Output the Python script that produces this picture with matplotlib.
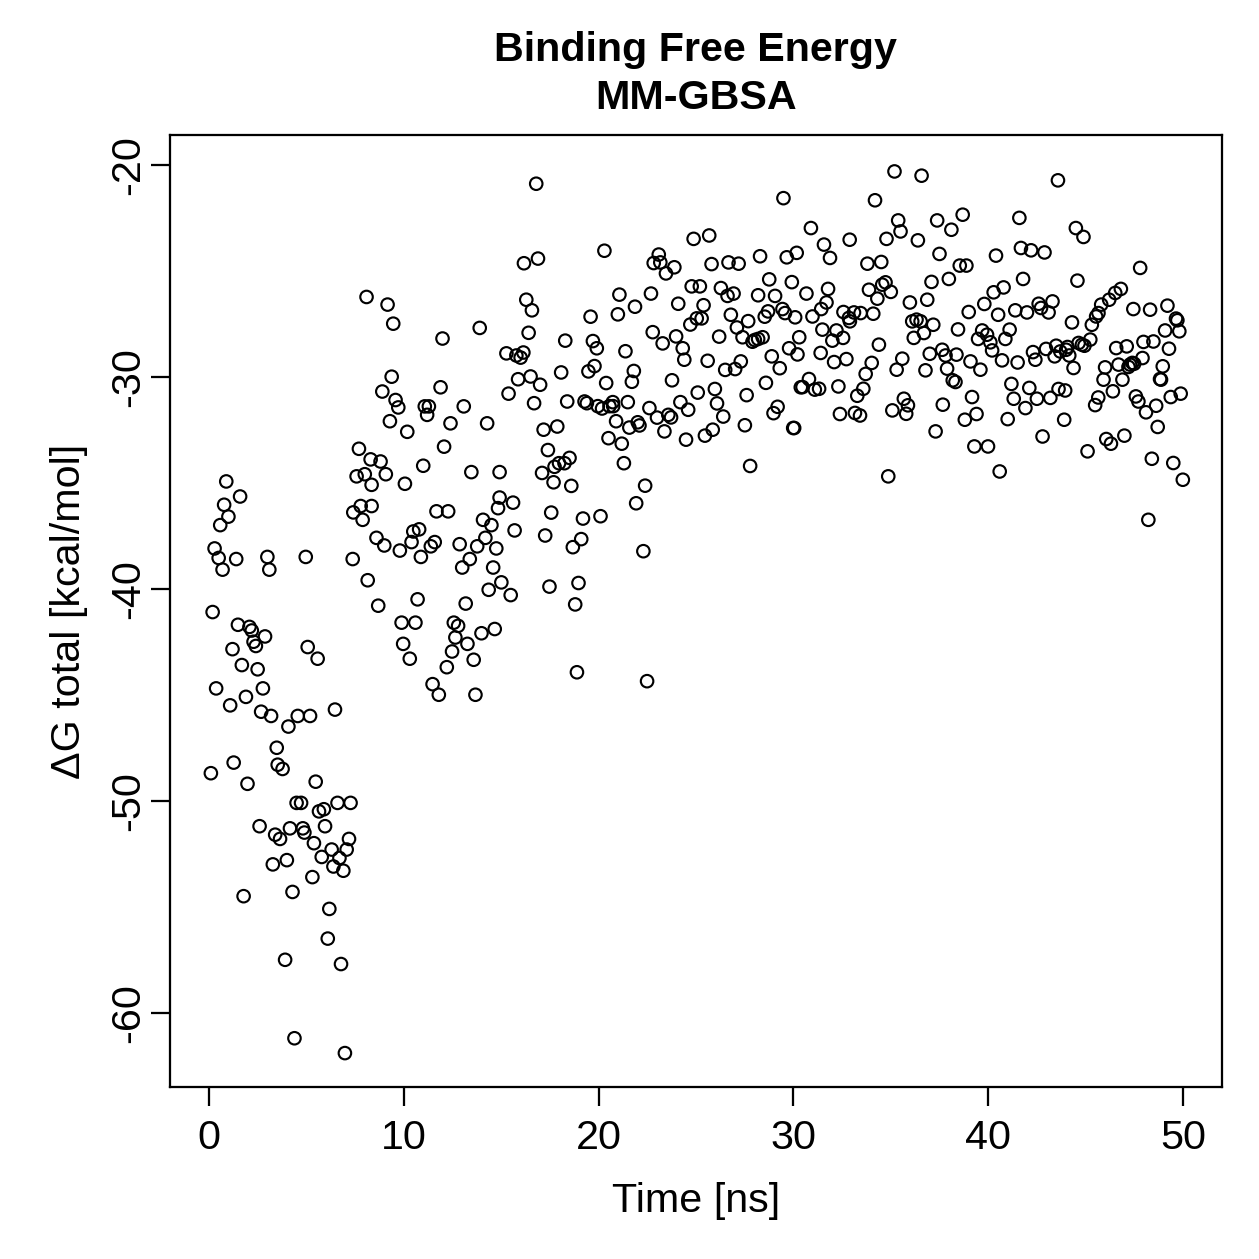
"""Binding free energy (MM-GBSA) over simulation time, R base-graphics look."""

import matplotlib

matplotlib.use("Agg")
import matplotlib.pyplot as plt

# values: time [ns] and dG total [kcal/mol]
time_ns = [
    0.89, 1.6, 0.78, 1.0, 0.58, 0.29, 0.5, 0.7, 1.4, 3.0, 3.1, 4.97, 0.19, 1.49, 2.08,
    2.2, 2.88, 2.29, 2.41, 1.21, 1.69, 2.5, 0.37, 2.77, 1.9, 1.09, 2.68, 3.19, 4.56, 4.08,
    3.48, 1.27, 3.53, 3.78, 0.1, 1.98, 4.5, 4.73, 2.6, 3.4, 3.65, 4.16, 4.82, 4.9, 3.28,
    4.0, 1.78, 4.29, 3.91, 4.39, 7.58, 8.0, 8.35, 7.41, 7.79, 7.89, 8.35, 8.6, 7.38, 8.15,
    5.07, 5.58, 5.19, 6.47, 5.48, 5.65, 5.9, 6.6, 7.27, 5.96, 5.39, 5.79, 6.3, 7.19, 7.07,
    6.7, 6.39, 6.9, 5.31, 6.18, 6.1, 6.78, 6.98,
    # 8 - 15 ns
    8.09, 9.17, 9.46, 11.99, 13.9, 9.38, 8.9, 9.58, 9.72, 11.89, 11.08, 11.29, 11.2, 13.08,
    9.29, 10.18, 12.4, 14.28, 12.07, 7.7, 8.3, 8.81, 9.08, 10.06, 11.0, 13.47, 14.92, 11.68,
    12.28, 14.92, 14.84, 14.07, 14.5, 9.0, 9.8, 10.4, 10.49, 10.79, 10.88, 11.39, 11.59,
    12.87, 13.77, 14.19, 14.75, 13.39, 13.0, 14.59, 15.01, 14.36, 10.71, 8.69, 13.18, 9.89,
    10.6, 12.57, 12.79, 12.65, 13.99, 14.67, 9.97, 13.27, 10.31, 12.48, 13.59, 12.21, 11.48,
    11.8, 13.68,
    # 15 - 22 ns
    16.8, 20.3, 16.17, 16.89, 16.29, 16.58, 21.07, 21.87, 19.59, 20.99, 16.41, 18.29, 19.71,
    19.91, 21.38, 15.27, 15.78, 16.0, 16.14, 21.81, 21.71, 18.08, 19.48, 19.79, 20.39, 15.87,
    16.51, 17.0, 15.38, 16.69, 18.39, 19.28, 19.4, 19.96, 20.18, 20.56, 20.73, 20.75, 21.5,
    20.9, 22.01, 22.1, 21.58, 17.18, 17.88, 20.51, 21.19, 17.4, 18.51, 18.25, 17.97, 17.74,
    17.1, 21.3, 17.69, 18.6, 15.61, 21.93, 17.57, 19.2, 20.1, 15.69, 17.26, 19.11, 18.68,
    15.49, 17.48, 18.97, 18.8, 18.89,
    # 22 - 30 ns
    29.49, 24.88, 25.68, 23.09, 22.83, 23.17, 23.46, 23.89, 25.8, 26.67, 27.19, 28.29, 29.66,
    30.17, 22.69, 24.09, 24.78, 25.2, 26.28, 26.62, 26.93, 28.76, 29.92, 25.39, 28.19, 29.06,
    24.71, 25.04, 25.29, 26.79, 27.68, 28.53, 28.7, 29.44, 29.57, 30.09, 22.78, 23.29, 23.98,
    26.19, 27.1, 27.39, 27.9, 28.02, 28.19, 28.42, 30.3, 24.32, 24.4, 25.6, 29.78, 30.21,
    28.89, 29.3, 26.5, 27.01, 27.3, 23.77, 28.59, 30.38, 25.09, 25.97, 26.08, 27.6, 24.2,
    24.6, 22.61, 23.0, 23.58, 23.72, 26.4, 25.86, 25.46, 24.49, 23.38, 27.51, 28.98, 29.19,
    29.99, 27.78, 22.39, 22.3, 22.49,
    # 30 - 38 ns
    35.19, 36.58, 34.19, 30.9, 35.38, 35.5, 37.38, 38.11, 32.89, 34.78, 36.39, 31.57, 31.88,
    37.5, 33.8, 34.51, 38.54, 30.67, 31.78, 31.7, 33.88, 34.31, 34.56, 34.73, 35.0, 37.09,
    37.98, 35.98, 36.87, 31.43, 30.98, 32.57, 32.85, 33.11, 32.9, 33.45, 34.1, 36.1, 36.32,
    36.53, 37.18, 38.45, 31.49, 32.21, 32.55, 32.0, 36.18, 36.7, 34.39, 31.4, 32.09, 32.72,
    34.02, 33.71, 35.59, 35.3, 37.0, 37.64, 37.81, 36.78, 37.89, 38.37, 38.18, 38.32, 30.8,
    30.47, 31.1, 31.32, 32.31, 33.59, 33.28, 35.67, 35.88, 35.79, 35.08, 37.67, 32.39, 33.16,
    33.42, 30.04, 37.3, 34.87,
    # 38 - 46 ns
    43.58, 38.69, 41.6, 44.5, 44.89, 40.4, 41.68, 42.2, 42.89, 38.88, 41.79, 44.58, 40.28,
    40.79, 39.8, 39.0, 40.51, 41.39, 41.99, 42.59, 42.71, 43.1, 43.3, 44.3, 39.69, 39.94,
    39.48, 40.11, 40.2, 41.1, 40.88, 39.09, 39.6, 40.71, 41.51, 42.3, 42.42, 42.97, 43.49,
    43.41, 43.7, 44.0, 44.16, 44.07, 44.64, 44.81, 44.94, 45.24, 44.38, 41.19, 42.11, 43.61,
    43.95, 41.31, 41.91, 42.5, 43.19, 39.17, 39.4, 38.8, 41.0, 43.9, 45.49, 45.65, 42.79,
    39.29, 39.99, 45.1, 40.59,
    # 45 - 50 ns
    47.8, 46.81, 46.52, 46.21, 45.8, 45.54, 45.66, 45.32, 47.45, 48.31, 49.2, 49.64, 49.71,
    49.81, 49.08, 49.28, 46.57, 47.11, 47.97, 48.48, 47.92, 46.0, 46.69, 47.2, 47.28, 47.4,
    47.49, 48.96, 48.82, 48.87, 45.92, 46.89, 46.4, 47.58, 47.71, 48.1, 48.62, 49.37, 49.88,
    48.7, 46.06, 46.3, 46.99, 48.4, 49.5, 49.99, 48.22,
]

dg_total = [
    -34.94, -35.65, -36.04, -36.6, -37.0, -38.1, -38.55, -39.1, -38.6, -38.5, -39.1, -38.5,
    -41.1, -41.7, -41.8, -41.97, -42.25, -42.5, -42.7, -42.85, -43.6, -43.8, -44.7, -44.7,
    -45.1, -45.5, -45.8, -46.0, -46.0, -46.5, -47.5, -48.2, -48.3, -48.5, -48.7, -49.2,
    -50.1, -50.1, -51.2, -51.6, -51.8, -51.3, -51.3, -51.5, -53.0, -52.8, -54.5, -54.3,
    -57.5, -61.2, -34.7, -34.6, -35.1, -36.4, -36.1, -36.75, -36.1, -37.6, -38.6, -39.6,
    -42.75, -43.3, -46.0, -45.7, -49.1, -50.5, -50.4, -50.1, -50.1, -51.2, -52.0, -52.65,
    -52.3, -51.8, -52.3, -52.7, -53.1, -53.3, -53.6, -55.1, -56.5, -57.7, -61.9,
    # 8 - 15 ns
    -26.24, -26.6, -27.5, -28.2, -27.7, -30.0, -30.7, -31.1, -31.45, -30.5, -31.4, -31.4,
    -31.8, -31.4, -32.1, -32.6, -32.2, -32.2, -33.3, -33.4, -33.9, -34.0, -34.6, -35.05,
    -34.2, -34.5, -34.5, -36.35, -36.35, -35.7, -36.2, -36.75, -37.0, -37.96, -38.2, -37.8,
    -37.3, -37.2, -38.5, -38.0, -37.8, -37.9, -38.0, -37.6, -38.1, -38.6, -39.0, -39.0,
    -39.7, -40.05, -40.5, -40.8, -40.7, -41.6, -41.6, -41.6, -41.75, -42.3, -42.1, -41.9,
    -42.6, -42.6, -43.3, -42.96, -43.35, -43.7, -44.5, -45.0, -45.0,
    # 15 - 22 ns
    -20.9, -24.06, -24.65, -24.43, -26.37, -26.87, -26.13, -26.7, -27.17, -27.06, -27.93,
    -28.3, -28.32, -28.66, -28.8, -28.9, -29.0, -29.1, -28.86, -29.73, -30.24, -29.8,
    -29.75, -29.5, -30.3, -30.12, -29.99, -30.38, -30.8, -31.25, -31.17, -31.17, -31.25,
    -31.39, -31.5, -31.39, -31.2, -31.39, -31.2, -32.1, -32.15, -32.3, -32.4, -32.5, -32.35,
    -32.9, -33.16, -33.46, -33.83, -34.08, -34.08, -34.25, -34.54, -34.08, -34.98, -35.15,
    -35.94, -35.97, -36.41, -36.69, -36.58, -37.25, -37.49, -37.66, -38.04, -40.3, -39.9,
    -39.73, -40.74, -43.94,
    # 22 - 30 ns
    -21.58, -23.5, -23.34, -24.24, -24.64, -24.61, -25.13, -24.84, -24.69, -24.61, -24.67,
    -24.32, -24.37, -24.16, -26.08, -26.56, -25.74, -25.74, -25.82, -26.19, -26.08, -25.41,
    -25.54, -26.63, -26.16, -26.19, -27.54, -27.25, -27.25, -27.08, -27.38, -27.17, -26.92,
    -26.81, -27.0, -27.2, -27.9, -28.43, -28.1, -28.11, -27.68, -28.14, -28.35, -28.27,
    -28.22, -28.14, -28.14, -28.66, -29.2, -29.25, -28.66, -28.95, -29.04, -29.6, -29.68,
    -29.64, -29.28, -30.17, -30.29, -30.5, -30.75, -30.58, -31.26, -30.87, -31.2, -31.56,
    -31.48, -31.93, -31.8, -31.92, -31.88, -32.5, -32.78, -32.97, -32.58, -32.29, -31.72,
    -31.42, -32.42, -34.21, -35.14, -38.23, -44.36,
    # 30 - 38 ns
    -20.32, -20.52, -21.68, -22.99, -22.63, -23.15, -22.63, -23.07, -23.54, -23.5, -23.57,
    -23.77, -24.4, -24.21, -24.67, -24.59, -24.76, -26.08, -25.86, -26.5, -25.9, -26.32,
    -25.66, -25.55, -26.0, -25.53, -25.39, -26.5, -26.37, -26.81, -27.16, -26.95, -27.23,
    -26.97, -27.39, -27.0, -27.03, -27.39, -27.31, -27.39, -27.55, -27.77, -27.78, -27.82,
    -28.17, -28.3, -28.17, -27.94, -28.49, -28.88, -29.31, -29.17, -29.35, -29.87, -29.15,
    -29.67, -28.92, -28.73, -29.0, -29.7, -29.62, -28.96, -30.17, -30.25, -30.11, -30.49,
    -30.61, -30.57, -30.46, -30.57, -30.9, -31.04, -31.35, -31.75, -31.59, -31.32, -31.76,
    -31.71, -31.83, -32.42, -32.58, -34.7,
    # 38 - 46 ns
    -20.74, -22.36, -22.51, -22.99, -23.41, -24.29, -23.93, -24.04, -24.14, -24.76, -25.39,
    -25.47, -26.02, -25.79, -26.57, -26.95, -27.08, -26.87, -26.97, -26.56, -26.76, -26.97,
    -26.45, -27.44, -27.82, -28.02, -28.22, -28.38, -28.76, -27.78, -28.22, -29.28, -29.67,
    -29.23, -29.33, -28.84, -29.2, -28.69, -28.54, -29.04, -28.81, -28.73, -29.0, -28.6,
    -28.41, -28.49, -28.54, -28.25, -29.59, -30.34, -30.53, -30.58, -30.65, -31.04, -31.48,
    -31.04, -31.0, -30.96, -31.76, -32.03, -32.0, -32.03, -31.34, -30.98, -32.82, -33.29,
    -33.29, -33.52, -34.47,
    # 45 - 50 ns
    -24.87, -25.86, -26.05, -26.37, -26.6, -27.16, -27.0, -27.55, -26.81, -26.84, -26.65,
    -27.26, -27.34, -27.86, -27.82, -28.68, -28.65, -28.57, -28.36, -28.34, -29.12, -29.56,
    -29.43, -29.54, -29.43, -29.35, -29.39, -29.51, -30.11, -30.14, -30.14, -30.14, -30.69,
    -30.93, -31.17, -31.68, -31.37, -30.96, -30.8, -32.37, -32.94, -33.16, -32.78, -33.87,
    -34.07, -34.86, -36.75,
]

x_ticks = [0, 10, 20, 30, 40, 50]
y_ticks = [-60, -50, -40, -30, -20]

plt.rcParams["font.family"] = ["Liberation Sans", "DejaVu Sans"]

fig = plt.figure(figsize=(1259 / 180, 1259 / 180), dpi=180)
ax = fig.add_axes([0.135, 0.1366, 0.8356, 0.7562])

ax.scatter(time_ns, dg_total, s=25, facecolors="none", edgecolors="black", linewidths=0.85)

ax.set_xlim(-2, 52)
ax.set_ylim(-63.5, -18.6)
ax.set_xticks(x_ticks)
ax.set_yticks(y_ticks)
ax.set_yticklabels([str(v) for v in y_ticks], rotation=90, va="center")
ax.tick_params(length=7.6, width=0.9, labelsize=16.5, color="black")
ax.tick_params(axis="x", pad=5)
ax.tick_params(axis="y", pad=1.5)

for side in ax.spines.values():
    side.set_linewidth(0.9)

ax.set_xlabel("Time [ns]", fontsize=16.5, labelpad=10)
ax.set_ylabel("\u0394G total [kcal/mol]", fontsize=16.5, labelpad=8.4)
ax.set_title("Binding Free Energy\nMM-GBSA", fontsize=16.5, fontweight="bold",
             pad=10.5, linespacing=1.32)

fig.savefig("out.png", dpi=180)
